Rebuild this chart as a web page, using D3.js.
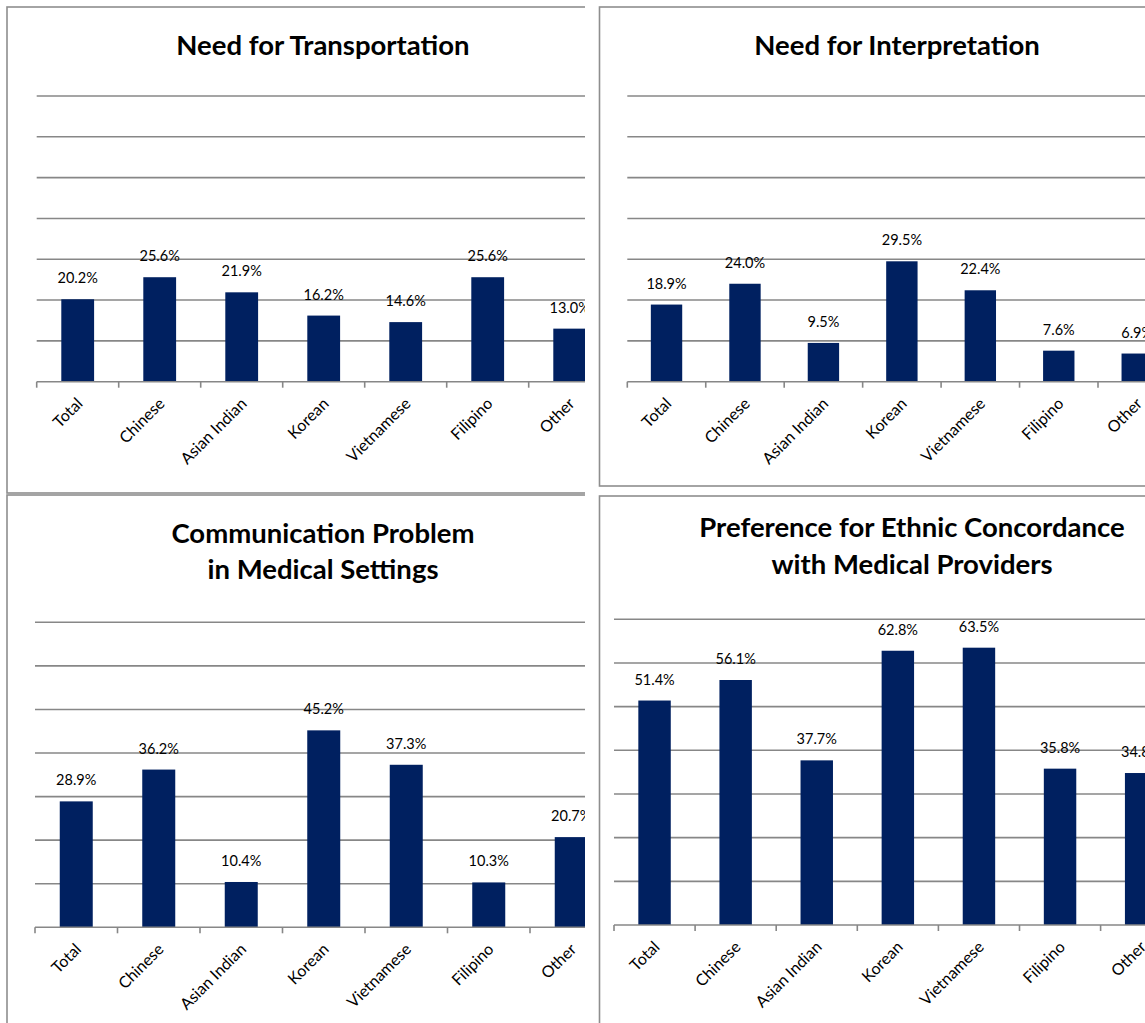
<!DOCTYPE html>
<html>
<head>
<meta charset="utf-8">
<script src="https://cdn.jsdelivr.net/npm/d3@7"></script>
<style>
  html, body { margin: 0; padding: 0; background: #ffffff; }
  svg { display: block; }
  .title { font-family: Lato, "Open Sans", sans-serif; font-weight: 700; fill: #000; }
  .value { font-family: Lato, "Open Sans", sans-serif; fill: #000; }
  .cat { font-family: Lato, "Open Sans", sans-serif; fill: #000; }
</style>
</head>
<body>
<script>
// Survey groups shown on every panel
const categories = ["Total", "Chinese", "Asian Indian", "Korean", "Vietnamese", "Filipino", "Other"];

// Percent of respondents in each group
const transportationValues = [20.2, 25.6, 21.9, 16.2, 14.6, 25.6, 13.0];
const interpretationValues = [18.9, 24.0, 9.5, 29.5, 22.4, 7.6, 6.9];
const communicationValues  = [28.9, 36.2, 10.4, 45.2, 37.3, 10.3, 20.7];
const concordanceValues    = [51.4, 56.1, 37.7, 62.8, 63.5, 35.8, 34.8];

const transportationTitle = ["Need for Transportation"];
const interpretationTitle = ["Need for Interpretation"];
const communicationTitle  = ["Communication Problem", "in Medical Settings"];
const concordanceTitle    = ["Preference for Ethnic Concordance", "with Medical Providers"];

// Shared value axis: 0–70 %, gridline every 10 %
const yMax = 70;
const yStep = 10;

const W = 1145, H = 1023;
const BAR = "#002060", GRID = "#878787", FRAME = "#8e8e8e";

const svg = d3.select("body").append("svg")
  .attr("width", W).attr("height", H)
  .attr("viewBox", `0 0 ${W} ${H}`);

svg.append("rect").attr("width", W).attr("height", H).attr("fill", "#fff");

// Layout of each chart block on the page
const panels = [
  { id: "p1", values: transportationValues, title: transportationTitle,
    frame: { x: 7, y: 7, w: 632, h: 486 }, clipW: 585,
    x0: 36.7, step: 82.0, yTop: 96, yBase: 381.7, titleX: 323, titleY: [55] },
  { id: "p2", values: interpretationValues, title: interpretationTitle,
    frame: { x: 599.5, y: 7, w: 600, h: 479 }, clipW: null,
    x0: 627.3, step: 78.45, yTop: 96, yBase: 381.7, titleX: 897, titleY: [55] },
  { id: "p3", values: communicationValues, title: communicationTitle,
    frame: { x: 7, y: 495, w: 632, h: 600 }, clipW: 585,
    x0: 35.0, step: 82.5, yTop: 622.3, yBase: 927.3, titleX: 323, titleY: [543, 579] },
  { id: "p4", values: concordanceValues, title: concordanceTitle,
    frame: { x: 599.5, y: 496, w: 640, h: 600 }, clipW: null,
    x0: 614.0, step: 81.1, yTop: 619.3, yBase: 925, titleX: 912, titleY: [537, 574] }
];

const defs = svg.append("defs");

panels.forEach(p => {
  let g = svg.append("g");
  if (p.clipW !== null) {
    defs.append("clipPath").attr("id", "clip-" + p.id)
      .append("rect").attr("x", 0).attr("y", p.frame.y - 2)
      .attr("width", p.clipW).attr("height", p.frame.h + 4);
    g.attr("clip-path", `url(#clip-${p.id})`);
  }

  // chart frame
  g.append("rect")
    .attr("x", p.frame.x).attr("y", p.frame.y)
    .attr("width", p.frame.w).attr("height", p.frame.h)
    .attr("fill", "#fff").attr("stroke", FRAME).attr("stroke-width", 1.6);

  const x1 = p.x0 + p.step * categories.length;
  const x = d3.scaleBand()
    .domain(categories)
    .range([p.x0, x1])
    .paddingInner(0.6)
    .paddingOuter(0.3);
  const y = d3.scaleLinear().domain([0, yMax]).range([p.yBase, p.yTop]);

  // horizontal gridlines
  const gridVals = d3.range(yStep, yMax + 0.001, yStep);
  g.append("g").selectAll("line").data(gridVals).join("line")
    .attr("x1", p.x0).attr("x2", x1)
    .attr("y1", d => y(d)).attr("y2", d => y(d))
    .attr("stroke", GRID).attr("stroke-width", 1.6);

  // bars
  g.append("g").selectAll("rect").data(p.values).join("rect")
    .attr("x", (d, i) => x(categories[i]))
    .attr("width", x.bandwidth())
    .attr("y", d => y(d))
    .attr("height", d => y(0) - y(d))
    .attr("fill", BAR);

  // category axis line and boundary ticks
  g.append("line")
    .attr("x1", p.x0).attr("x2", x1)
    .attr("y1", y(0)).attr("y2", y(0))
    .attr("stroke", GRID).attr("stroke-width", 1.6);
  const bounds = d3.range(categories.length + 1).map(k => p.x0 + k * x.step());
  g.append("g").selectAll("line").data(bounds).join("line")
    .attr("x1", d => d).attr("x2", d => d)
    .attr("y1", y(0)).attr("y2", y(0) + 6)
    .attr("stroke", GRID).attr("stroke-width", 1.6);

  // category labels, rotated
  g.append("g").selectAll("text").data(categories).join("text")
    .attr("class", "cat")
    .attr("font-size", 16)
    .attr("text-anchor", "end")
    .attr("transform", d => `translate(${x(d) + x.bandwidth() / 2 + 6},${y(0) + 23}) rotate(-45)`)
    .text(d => d);

  // value labels
  g.append("g").selectAll("text").data(p.values).join("text")
    .attr("class", "value")
    .attr("font-size", 14.5)
    .attr("text-anchor", "middle")
    .attr("x", (d, i) => x(categories[i]) + x.bandwidth() / 2)
    .attr("y", d => y(d) - 16)
    .text(d => d.toFixed(1) + "%");

  // title
  g.append("g").selectAll("text").data(p.title).join("text")
    .attr("class", "title")
    .attr("font-size", 27.5)
    .attr("text-anchor", "middle")
    .attr("x", p.titleX)
    .attr("y", (d, i) => p.titleY[i])
    .text(d => d);
});
</script>
</body>
</html>
